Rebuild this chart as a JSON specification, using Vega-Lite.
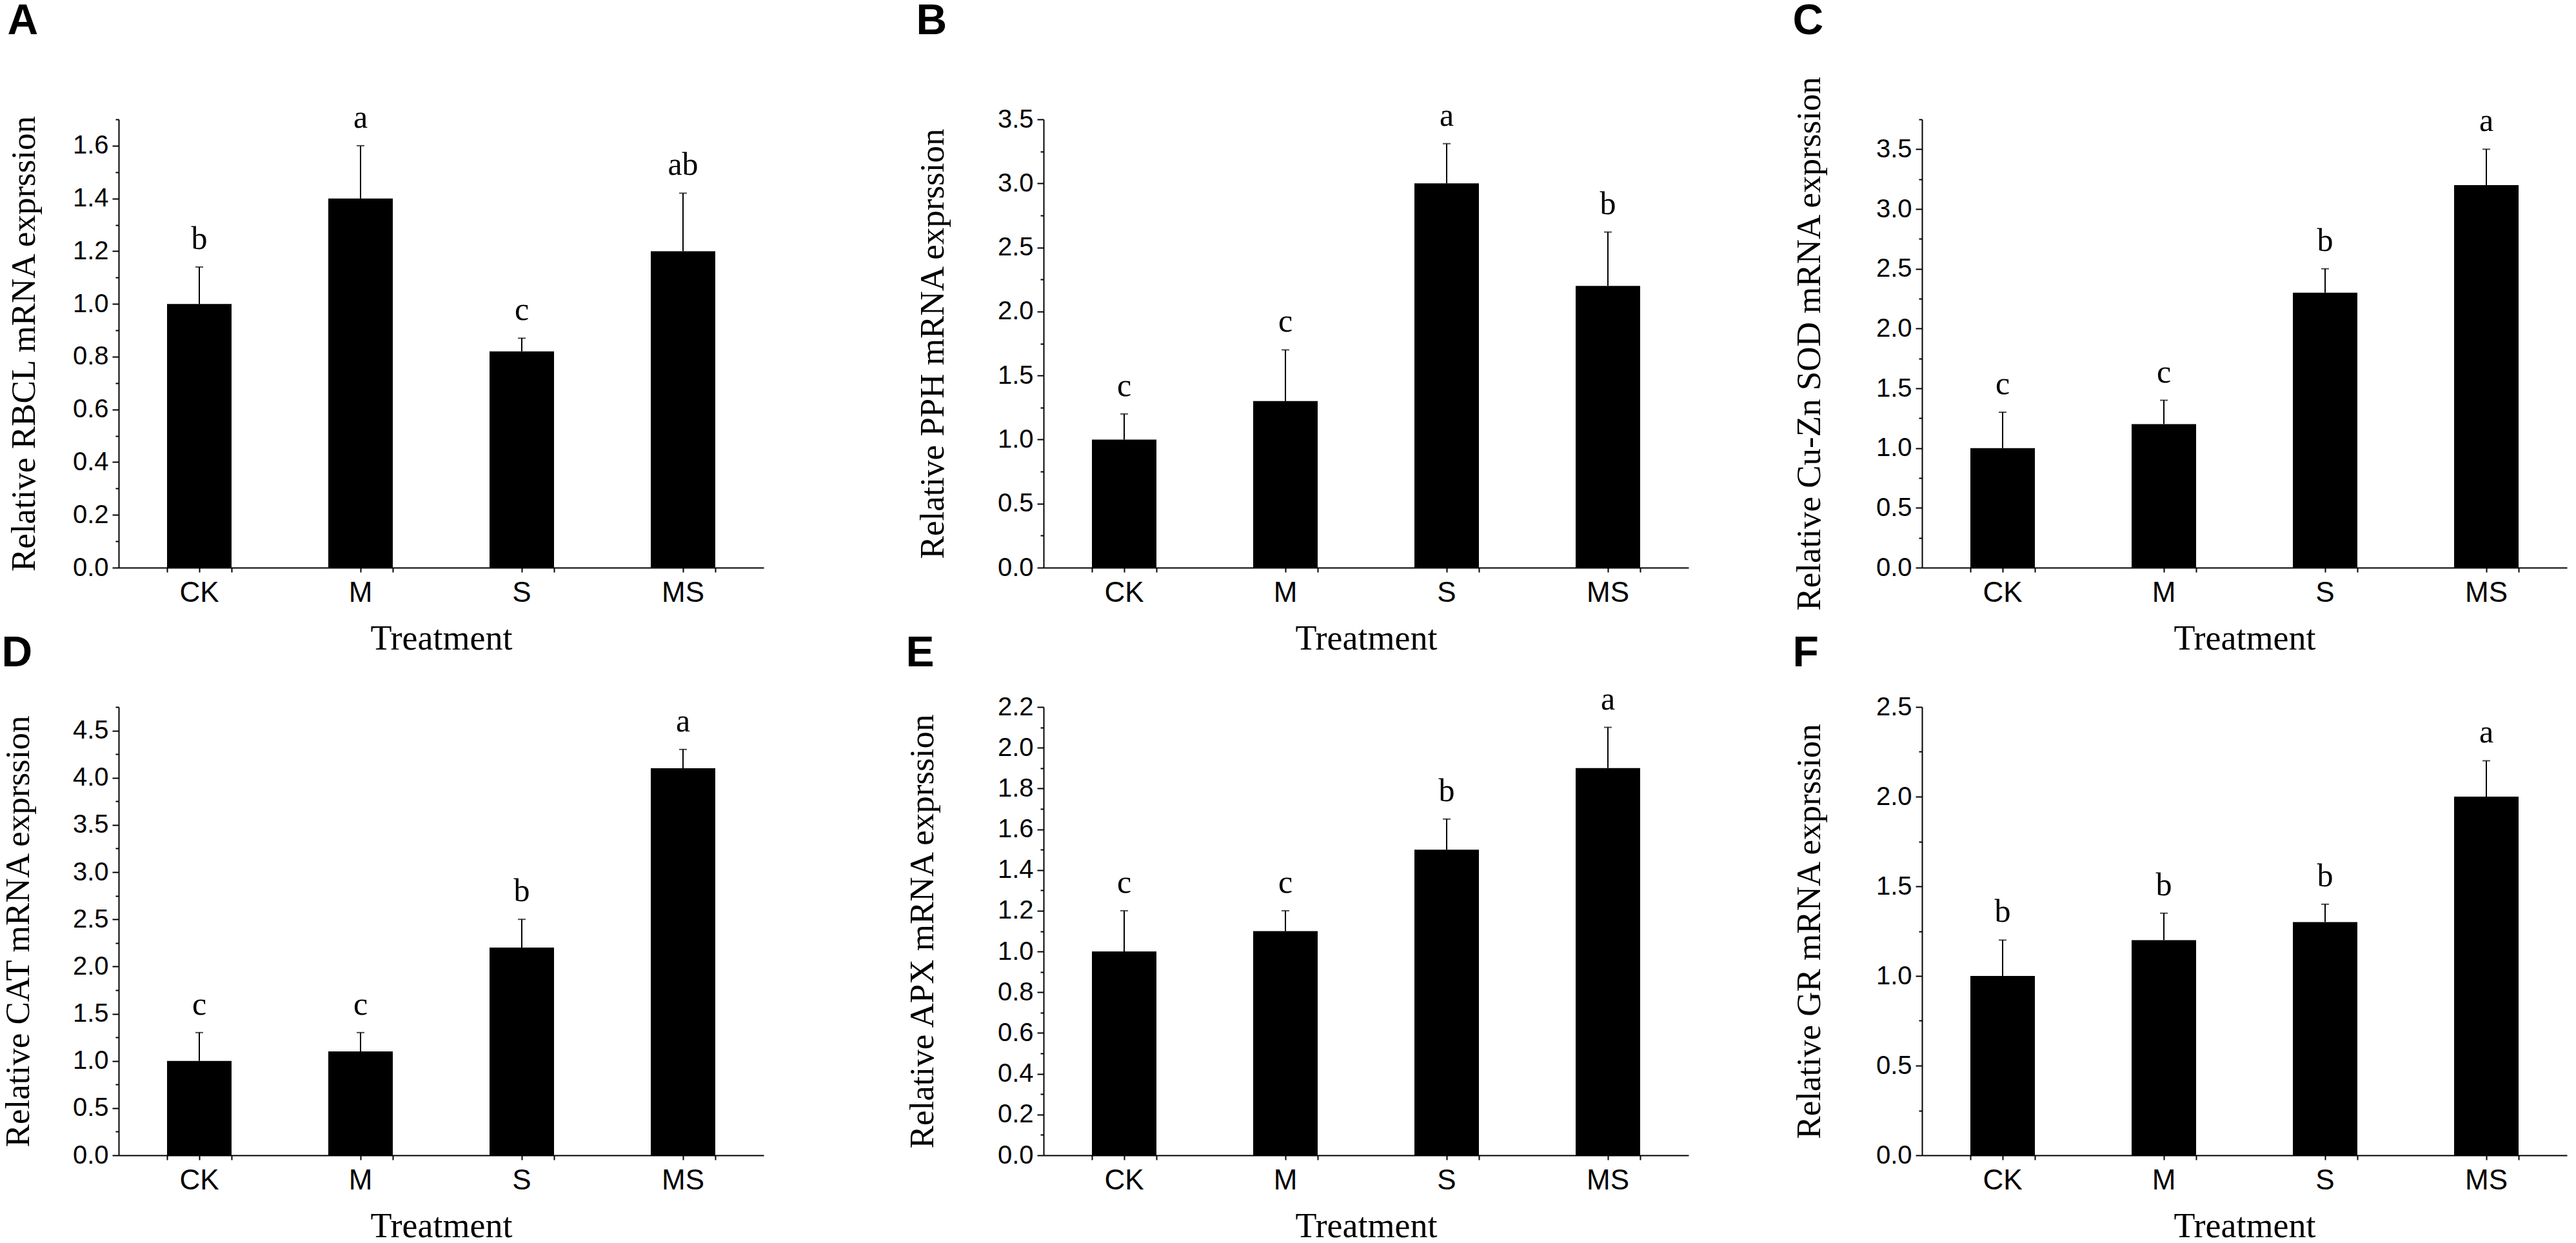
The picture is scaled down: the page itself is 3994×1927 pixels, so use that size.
{
"$schema": "https://vega.github.io/schema/vega-lite/v6.json",
"autosize": {"type": "none"},
"padding": {"left": 184, "top": 185, "right": 3810, "bottom": 1742},
"background": "white",
"data": {"values": [
{"panel": "A", "treatment": "CK", "value": 1.0, "err": 1.14, "sig": "b"},
{"panel": "A", "treatment": "M", "value": 1.4, "err": 1.6, "sig": "a"},
{"panel": "A", "treatment": "S", "value": 0.82, "err": 0.87, "sig": "c"},
{"panel": "A", "treatment": "MS", "value": 1.2, "err": 1.42, "sig": "ab"},
{"panel": "B", "treatment": "CK", "value": 1.0, "err": 1.2, "sig": "c"},
{"panel": "B", "treatment": "M", "value": 1.3, "err": 1.7, "sig": "c"},
{"panel": "B", "treatment": "S", "value": 3.0, "err": 3.31, "sig": "a"},
{"panel": "B", "treatment": "MS", "value": 2.2, "err": 2.62, "sig": "b"},
{"panel": "C", "treatment": "CK", "value": 1.0, "err": 1.3, "sig": "c"},
{"panel": "C", "treatment": "M", "value": 1.2, "err": 1.4, "sig": "c"},
{"panel": "C", "treatment": "S", "value": 2.3, "err": 2.5, "sig": "b"},
{"panel": "C", "treatment": "MS", "value": 3.2, "err": 3.5, "sig": "a"},
{"panel": "D", "treatment": "CK", "value": 1.0, "err": 1.3, "sig": "c"},
{"panel": "D", "treatment": "M", "value": 1.1, "err": 1.3, "sig": "c"},
{"panel": "D", "treatment": "S", "value": 2.2, "err": 2.5, "sig": "b"},
{"panel": "D", "treatment": "MS", "value": 4.1, "err": 4.3, "sig": "a"},
{"panel": "E", "treatment": "CK", "value": 1.0, "err": 1.2, "sig": "c"},
{"panel": "E", "treatment": "M", "value": 1.1, "err": 1.2, "sig": "c"},
{"panel": "E", "treatment": "S", "value": 1.5, "err": 1.65, "sig": "b"},
{"panel": "E", "treatment": "MS", "value": 1.9, "err": 2.1, "sig": "a"},
{"panel": "F", "treatment": "CK", "value": 1.0, "err": 1.2, "sig": "b"},
{"panel": "F", "treatment": "M", "value": 1.2, "err": 1.35, "sig": "b"},
{"panel": "F", "treatment": "S", "value": 1.3, "err": 1.4, "sig": "b"},
{"panel": "F", "treatment": "MS", "value": 2.0, "err": 2.2, "sig": "a"}
]},
"columns": 3,
"spacing": {"row": 216, "column": 362},
"bounds": "flush",
"concat": [
{
"width": 1072, "height": 695,
"title": {"text": "A", "anchor": "start", "frame": "bounds", "font": "Liberation Sans", "fontSize": 66, "fontWeight": "bold", "color": "black", "baseline": "alphabetic", "offset": 39},
"transform": [{"filter": "datum.panel === 'A'"}],
"resolve": {"axis": {"x": "independent", "y": "independent"}},
"layer": [
{"mark": {"type": "bar", "color": "black"},
 "encoding": {
  "x": {"field": "treatment", "type": "nominal", "sort": ["CK", "M", "S", "MS"], "scale": {"paddingInner": 0.6, "paddingOuter": 0.3, "range": [0, 1000]}, "axis": {"orient": "bottom", "title": "Treatment", "labelAngle": 0, "tickSize": 7, "labelPadding": 10, "labelFontSize": 44, "titleFontSize": 54, "titlePadding": 22}},
  "y": {"field": "value", "type": "quantitative", "scale": {"domain": [0, 1.7], "nice": false}, "axis": {"orient": "left", "values": [0, 0.2, 0.4, 0.6, 0.8, 1.0, 1.2, 1.4, 1.6], "format": ".1f", "tickSize": 10, "labelPadding": 6, "labelFontSize": 40, "title": "Relative RBCL mRNA exprssion", "titleFontSize": 53, "titlePadding": 48}}
 }},
{"mark": {"type": "rule", "color": "black", "strokeWidth": 2},
 "encoding": {
  "x": {"field": "treatment", "type": "nominal", "sort": ["CK", "M", "S", "MS"], "scale": {"paddingInner": 0.6, "paddingOuter": 0.3, "range": [0, 1000]}, "axis": {"orient": "bottom", "tickBand": "extent", "labels": false, "domain": false, "title": null, "tickSize": 7}},
  "y": {"field": "value", "type": "quantitative", "scale": {"domain": [0, 1.7], "nice": false}, "axis": {"orient": "left", "values": [0.1, 0.3, 0.5, 0.7, 0.9, 1.1, 1.3, 1.5, 1.7], "labels": false, "domain": false, "title": null, "tickSize": 5}},
  "y2": {"field": "err"}
 }},
{"mark": {"type": "tick", "color": "black", "thickness": 2, "size": 12},
 "encoding": {
  "x": {"field": "treatment", "type": "nominal", "sort": ["CK", "M", "S", "MS"], "scale": {"paddingInner": 0.6, "paddingOuter": 0.3, "range": [0, 1000]}, "axis": null},
  "y": {"field": "err", "type": "quantitative", "scale": {"domain": [0, 1.7], "nice": false}, "axis": null}
 }},
{"mark": {"type": "text", "font": "Liberation Serif", "fontSize": 50, "baseline": "alphabetic", "dy": -28, "color": "black"},
 "encoding": {
  "x": {"field": "treatment", "type": "nominal", "sort": ["CK", "M", "S", "MS"], "scale": {"paddingInner": 0.6, "paddingOuter": 0.3, "range": [0, 1000]}, "axis": null},
  "y": {"field": "err", "type": "quantitative", "scale": {"domain": [0, 1.7], "nice": false}, "axis": null},
  "text": {"field": "sig"}
 }}
]
},
{
"width": 1000, "height": 695,
"title": {"text": "B", "anchor": "start", "frame": "bounds", "font": "Liberation Sans", "fontSize": 66, "fontWeight": "bold", "color": "black", "baseline": "alphabetic", "offset": 36},
"transform": [{"filter": "datum.panel === 'B'"}],
"resolve": {"axis": {"x": "independent", "y": "independent"}},
"layer": [
{"mark": {"type": "bar", "color": "black"},
 "encoding": {
  "x": {"field": "treatment", "type": "nominal", "sort": ["CK", "M", "S", "MS"], "scale": {"paddingInner": 0.6, "paddingOuter": 0.3}, "axis": {"orient": "bottom", "title": "Treatment", "labelAngle": 0, "tickSize": 7, "labelPadding": 10, "labelFontSize": 44, "titleFontSize": 54, "titlePadding": 22}},
  "y": {"field": "value", "type": "quantitative", "scale": {"domain": [0, 3.5], "nice": false}, "axis": {"orient": "left", "values": [0, 0.5, 1.0, 1.5, 2.0, 2.5, 3.0, 3.5], "format": ".1f", "tickSize": 10, "labelPadding": 6, "labelFontSize": 40, "title": "Relative PPH mRNA exprssion", "titleFontSize": 53, "titlePadding": 73}}
 }},
{"mark": {"type": "rule", "color": "black", "strokeWidth": 2},
 "encoding": {
  "x": {"field": "treatment", "type": "nominal", "sort": ["CK", "M", "S", "MS"], "scale": {"paddingInner": 0.6, "paddingOuter": 0.3}, "axis": {"orient": "bottom", "tickBand": "extent", "labels": false, "domain": false, "title": null, "tickSize": 7}},
  "y": {"field": "value", "type": "quantitative", "scale": {"domain": [0, 3.5], "nice": false}, "axis": {"orient": "left", "values": [0.25, 0.75, 1.25, 1.75, 2.25, 2.75, 3.25], "labels": false, "domain": false, "title": null, "tickSize": 5}},
  "y2": {"field": "err"}
 }},
{"mark": {"type": "tick", "color": "black", "thickness": 2, "size": 12},
 "encoding": {
  "x": {"field": "treatment", "type": "nominal", "sort": ["CK", "M", "S", "MS"], "scale": {"paddingInner": 0.6, "paddingOuter": 0.3}, "axis": null},
  "y": {"field": "err", "type": "quantitative", "scale": {"domain": [0, 3.5], "nice": false}, "axis": null}
 }},
{"mark": {"type": "text", "font": "Liberation Serif", "fontSize": 50, "baseline": "alphabetic", "dy": -28, "color": "black"},
 "encoding": {
  "x": {"field": "treatment", "type": "nominal", "sort": ["CK", "M", "S", "MS"], "scale": {"paddingInner": 0.6, "paddingOuter": 0.3}, "axis": null},
  "y": {"field": "err", "type": "quantitative", "scale": {"domain": [0, 3.5], "nice": false}, "axis": null},
  "text": {"field": "sig"}
 }}
]
},
{
"width": 1000, "height": 695,
"title": {"text": "C", "anchor": "start", "frame": "bounds", "font": "Liberation Sans", "fontSize": 66, "fontWeight": "bold", "color": "black", "baseline": "alphabetic", "offset": -2},
"transform": [{"filter": "datum.panel === 'C'"}],
"resolve": {"axis": {"x": "independent", "y": "independent"}},
"layer": [
{"mark": {"type": "bar", "color": "black"},
 "encoding": {
  "x": {"field": "treatment", "type": "nominal", "sort": ["CK", "M", "S", "MS"], "scale": {"paddingInner": 0.6, "paddingOuter": 0.3}, "axis": {"orient": "bottom", "title": "Treatment", "labelAngle": 0, "tickSize": 7, "labelPadding": 10, "labelFont": "Liberation Sans Narrow, Liberation Sans", "labelFontSize": 44, "titleFontSize": 54, "titlePadding": 22}},
  "y": {"field": "value", "type": "quantitative", "scale": {"domain": [0, 3.75], "nice": false}, "axis": {"orient": "left", "values": [0, 0.5, 1.0, 1.5, 2.0, 2.5, 3.0, 3.5], "format": ".1f", "tickSize": 10, "labelPadding": 6, "labelFont": "Liberation Sans Narrow, Liberation Sans", "labelFontSize": 40, "title": "Relative Cu-Zn SOD mRNA exprssion", "titleFontSize": 53, "titlePadding": 76}}
 }},
{"mark": {"type": "rule", "color": "black", "strokeWidth": 2},
 "encoding": {
  "x": {"field": "treatment", "type": "nominal", "sort": ["CK", "M", "S", "MS"], "scale": {"paddingInner": 0.6, "paddingOuter": 0.3}, "axis": {"orient": "bottom", "tickBand": "extent", "labels": false, "domain": false, "title": null, "tickSize": 7}},
  "y": {"field": "value", "type": "quantitative", "scale": {"domain": [0, 3.75], "nice": false}, "axis": {"orient": "left", "values": [0.25, 0.75, 1.25, 1.75, 2.25, 2.75, 3.25, 3.75], "labels": false, "domain": false, "title": null, "tickSize": 5}},
  "y2": {"field": "err"}
 }},
{"mark": {"type": "tick", "color": "black", "thickness": 2, "size": 12},
 "encoding": {
  "x": {"field": "treatment", "type": "nominal", "sort": ["CK", "M", "S", "MS"], "scale": {"paddingInner": 0.6, "paddingOuter": 0.3}, "axis": null},
  "y": {"field": "err", "type": "quantitative", "scale": {"domain": [0, 3.75], "nice": false}, "axis": null}
 }},
{"mark": {"type": "text", "font": "Liberation Serif", "fontSize": 50, "baseline": "alphabetic", "dy": -28, "color": "black"},
 "encoding": {
  "x": {"field": "treatment", "type": "nominal", "sort": ["CK", "M", "S", "MS"], "scale": {"paddingInner": 0.6, "paddingOuter": 0.3}, "axis": null},
  "y": {"field": "err", "type": "quantitative", "scale": {"domain": [0, 3.75], "nice": false}, "axis": null},
  "text": {"field": "sig"}
 }}
]
},
{
"width": 1072, "height": 695,
"title": {"text": "D", "anchor": "start", "frame": "bounds", "font": "Liberation Sans", "fontSize": 66, "fontWeight": "bold", "color": "black", "baseline": "alphabetic", "offset": -5},
"transform": [{"filter": "datum.panel === 'D'"}],
"resolve": {"axis": {"x": "independent", "y": "independent"}},
"layer": [
{"mark": {"type": "bar", "color": "black"},
 "encoding": {
  "x": {"field": "treatment", "type": "nominal", "sort": ["CK", "M", "S", "MS"], "scale": {"paddingInner": 0.6, "paddingOuter": 0.3, "range": [0, 1000]}, "axis": {"orient": "bottom", "title": "Treatment", "labelAngle": 0, "tickSize": 7, "labelPadding": 10, "labelFont": "Liberation Sans Narrow, Liberation Sans", "labelFontSize": 44, "titleFontSize": 54, "titlePadding": 22}},
  "y": {"field": "value", "type": "quantitative", "scale": {"domain": [0, 4.75], "nice": false}, "axis": {"orient": "left", "values": [0, 0.5, 1.0, 1.5, 2.0, 2.5, 3.0, 3.5, 4.0, 4.5], "format": ".1f", "tickSize": 10, "labelPadding": 6, "labelFont": "Liberation Sans Narrow, Liberation Sans", "labelFontSize": 40, "title": "Relative CAT mRNA exprssion", "titleFontSize": 53, "titlePadding": 57}}
 }},
{"mark": {"type": "rule", "color": "black", "strokeWidth": 2},
 "encoding": {
  "x": {"field": "treatment", "type": "nominal", "sort": ["CK", "M", "S", "MS"], "scale": {"paddingInner": 0.6, "paddingOuter": 0.3, "range": [0, 1000]}, "axis": {"orient": "bottom", "tickBand": "extent", "labels": false, "domain": false, "title": null, "tickSize": 7}},
  "y": {"field": "value", "type": "quantitative", "scale": {"domain": [0, 4.75], "nice": false}, "axis": {"orient": "left", "values": [0.25, 0.75, 1.25, 1.75, 2.25, 2.75, 3.25, 3.75, 4.25, 4.75], "labels": false, "domain": false, "title": null, "tickSize": 5}},
  "y2": {"field": "err"}
 }},
{"mark": {"type": "tick", "color": "black", "thickness": 2, "size": 12},
 "encoding": {
  "x": {"field": "treatment", "type": "nominal", "sort": ["CK", "M", "S", "MS"], "scale": {"paddingInner": 0.6, "paddingOuter": 0.3, "range": [0, 1000]}, "axis": null},
  "y": {"field": "err", "type": "quantitative", "scale": {"domain": [0, 4.75], "nice": false}, "axis": null}
 }},
{"mark": {"type": "text", "font": "Liberation Serif", "fontSize": 50, "baseline": "alphabetic", "dy": -28, "color": "black"},
 "encoding": {
  "x": {"field": "treatment", "type": "nominal", "sort": ["CK", "M", "S", "MS"], "scale": {"paddingInner": 0.6, "paddingOuter": 0.3, "range": [0, 1000]}, "axis": null},
  "y": {"field": "err", "type": "quantitative", "scale": {"domain": [0, 4.75], "nice": false}, "axis": null},
  "text": {"field": "sig"}
 }}
]
},
{
"width": 1000, "height": 695,
"title": {"text": "E", "anchor": "start", "frame": "bounds", "font": "Liberation Sans", "fontSize": 66, "fontWeight": "bold", "color": "black", "baseline": "alphabetic", "offset": -39},
"transform": [{"filter": "datum.panel === 'E'"}],
"resolve": {"axis": {"x": "independent", "y": "independent"}},
"layer": [
{"mark": {"type": "bar", "color": "black"},
 "encoding": {
  "x": {"field": "treatment", "type": "nominal", "sort": ["CK", "M", "S", "MS"], "scale": {"paddingInner": 0.6, "paddingOuter": 0.3}, "axis": {"orient": "bottom", "title": "Treatment", "labelAngle": 0, "tickSize": 7, "labelPadding": 10, "labelFont": "Liberation Sans Narrow, Liberation Sans", "labelFontSize": 44, "titleFontSize": 54, "titlePadding": 22}},
  "y": {"field": "value", "type": "quantitative", "scale": {"domain": [0, 2.2], "nice": false}, "axis": {"orient": "left", "values": [0, 0.2, 0.4, 0.6, 0.8, 1.0, 1.2, 1.4, 1.6, 1.8, 2.0, 2.2], "format": ".1f", "tickSize": 10, "labelPadding": 6, "labelFont": "Liberation Sans Narrow, Liberation Sans", "labelFontSize": 40, "title": "Relative APX mRNA exprssion", "titleFontSize": 53, "titlePadding": 89}}
 }},
{"mark": {"type": "rule", "color": "black", "strokeWidth": 2},
 "encoding": {
  "x": {"field": "treatment", "type": "nominal", "sort": ["CK", "M", "S", "MS"], "scale": {"paddingInner": 0.6, "paddingOuter": 0.3}, "axis": {"orient": "bottom", "tickBand": "extent", "labels": false, "domain": false, "title": null, "tickSize": 7}},
  "y": {"field": "value", "type": "quantitative", "scale": {"domain": [0, 2.2], "nice": false}, "axis": {"orient": "left", "values": [0.1, 0.3, 0.5, 0.7, 0.9, 1.1, 1.3, 1.5, 1.7, 1.9, 2.1], "labels": false, "domain": false, "title": null, "tickSize": 5}},
  "y2": {"field": "err"}
 }},
{"mark": {"type": "tick", "color": "black", "thickness": 2, "size": 12},
 "encoding": {
  "x": {"field": "treatment", "type": "nominal", "sort": ["CK", "M", "S", "MS"], "scale": {"paddingInner": 0.6, "paddingOuter": 0.3}, "axis": null},
  "y": {"field": "err", "type": "quantitative", "scale": {"domain": [0, 2.2], "nice": false}, "axis": null}
 }},
{"mark": {"type": "text", "font": "Liberation Serif", "fontSize": 50, "baseline": "alphabetic", "dy": -28, "color": "black"},
 "encoding": {
  "x": {"field": "treatment", "type": "nominal", "sort": ["CK", "M", "S", "MS"], "scale": {"paddingInner": 0.6, "paddingOuter": 0.3}, "axis": null},
  "y": {"field": "err", "type": "quantitative", "scale": {"domain": [0, 2.2], "nice": false}, "axis": null},
  "text": {"field": "sig"}
 }}
]
},
{
"width": 1000, "height": 695,
"title": {"text": "F", "anchor": "start", "frame": "bounds", "font": "Liberation Sans", "fontSize": 66, "fontWeight": "bold", "color": "black", "baseline": "alphabetic", "offset": -23},
"transform": [{"filter": "datum.panel === 'F'"}],
"resolve": {"axis": {"x": "independent", "y": "independent"}},
"layer": [
{"mark": {"type": "bar", "color": "black"},
 "encoding": {
  "x": {"field": "treatment", "type": "nominal", "sort": ["CK", "M", "S", "MS"], "scale": {"paddingInner": 0.6, "paddingOuter": 0.3}, "axis": {"orient": "bottom", "title": "Treatment", "labelAngle": 0, "tickSize": 7, "labelPadding": 10, "labelFont": "Liberation Sans Narrow, Liberation Sans", "labelFontSize": 44, "titleFontSize": 54, "titlePadding": 22}},
  "y": {"field": "value", "type": "quantitative", "scale": {"domain": [0, 2.5], "nice": false}, "axis": {"orient": "left", "values": [0, 0.5, 1.0, 1.5, 2.0, 2.5], "format": ".1f", "tickSize": 10, "labelPadding": 6, "labelFont": "Liberation Sans Narrow, Liberation Sans", "labelFontSize": 40, "title": "Relative GR mRNA exprssion", "titleFontSize": 53, "titlePadding": 76}}
 }},
{"mark": {"type": "rule", "color": "black", "strokeWidth": 2},
 "encoding": {
  "x": {"field": "treatment", "type": "nominal", "sort": ["CK", "M", "S", "MS"], "scale": {"paddingInner": 0.6, "paddingOuter": 0.3}, "axis": {"orient": "bottom", "tickBand": "extent", "labels": false, "domain": false, "title": null, "tickSize": 7}},
  "y": {"field": "value", "type": "quantitative", "scale": {"domain": [0, 2.5], "nice": false}, "axis": {"orient": "left", "values": [0.25, 0.75, 1.25, 1.75, 2.25], "labels": false, "domain": false, "title": null, "tickSize": 5}},
  "y2": {"field": "err"}
 }},
{"mark": {"type": "tick", "color": "black", "thickness": 2, "size": 12},
 "encoding": {
  "x": {"field": "treatment", "type": "nominal", "sort": ["CK", "M", "S", "MS"], "scale": {"paddingInner": 0.6, "paddingOuter": 0.3}, "axis": null},
  "y": {"field": "err", "type": "quantitative", "scale": {"domain": [0, 2.5], "nice": false}, "axis": null}
 }},
{"mark": {"type": "text", "font": "Liberation Serif", "fontSize": 50, "baseline": "alphabetic", "dy": -28, "color": "black"},
 "encoding": {
  "x": {"field": "treatment", "type": "nominal", "sort": ["CK", "M", "S", "MS"], "scale": {"paddingInner": 0.6, "paddingOuter": 0.3}, "axis": null},
  "y": {"field": "err", "type": "quantitative", "scale": {"domain": [0, 2.5], "nice": false}, "axis": null},
  "text": {"field": "sig"}
 }}
]
}
],
"config": {
 "view": {"stroke": null},
 "axis": {"grid": false, "domainColor": "black", "domainWidth": 2, "tickColor": "black", "tickWidth": 2, "labelColor": "black", "labelFont": "Liberation Sans", "titleFont": "Liberation Serif", "titleFontWeight": "normal", "titleColor": "black", "labelOverlap": false, "labelFlush": false}
}
}
